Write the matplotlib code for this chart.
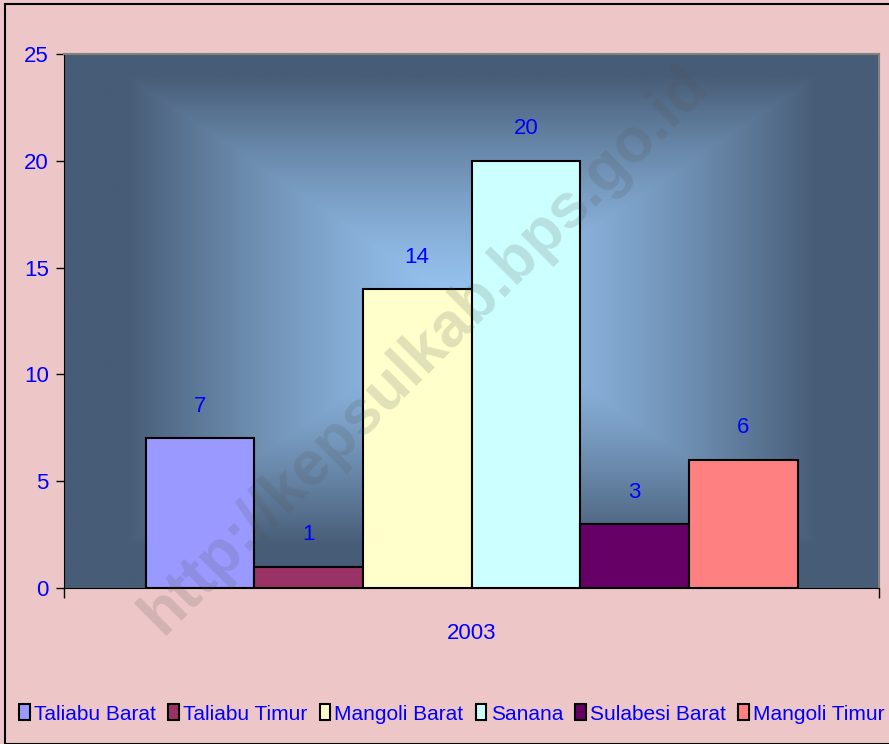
import numpy as np
import matplotlib
matplotlib.use('Agg')
import matplotlib.pyplot as plt
from matplotlib.patches import Rectangle, Patch

# data
regions = ['Taliabu Barat', 'Taliabu Timur', 'Mangoli Barat', 'Sanana',
           'Sulabesi Barat', 'Mangoli Timur']
values = [7, 1, 14, 20, 3, 6]
year = '2003'
colors = ['#9999FF', '#993366', '#FFFFCC', '#CCFFFF', '#660066', '#FF8080']

plt.rcParams['font.family'] = ['Liberation Sans', 'DejaVu Sans']
blue = '#0000FF'
pink = '#EDC6C7'

fig = plt.figure(figsize=(8.89, 7.44), dpi=100)
fig.patch.set_facecolor(pink)
fig.patches.append(Rectangle((5 / 889, 0.0), 1.0, 1 - 4 / 744, transform=fig.transFigure,
                             fill=False, edgecolor='black', linewidth=1.5))

ax = fig.add_axes([64 / 889, 1 - 588 / 744, 815 / 889, 534 / 744])

# rectangular "from centre" gradient backdrop
gx, gy = np.meshgrid(np.linspace(0, 1, 400), np.linspace(0, 1, 400))
t = np.maximum(np.abs(gx - 0.5) / 0.5, np.abs(gy - 0.48) / 0.52)
t = np.clip(t / 0.85, 0, 1) ** 1.4
c0 = np.array([0x98, 0xC5, 0xF2]) / 255
c1 = np.array([0x47, 0x5C, 0x76]) / 255
img = c0[None, None, :] * (1 - t[..., None]) + c1[None, None, :] * t[..., None]
ax.imshow(img, extent=[0, 1, 0, 1], transform=ax.transAxes, origin='upper',
          aspect='auto', zorder=0)

n = len(values)
width = 0.8 / n
x = -0.4 + width * (np.arange(n) + 0.5)
bars = ax.bar(x, values, width=width, color=colors, edgecolor='black',
              linewidth=1.5, zorder=2)
for xi, v in zip(x, values):
    ax.text(xi, v + 1.0, str(v), ha='center', va='bottom', color=blue,
            fontsize=16, zorder=3)

ax.set_xlim(-0.5, 0.5)
ax.set_ylim(0, 25)
ax.set_yticks([0, 5, 10, 15, 20, 25])
ax.tick_params(axis='y', colors='black', labelcolor=blue, labelsize=16,
               direction='out', length=6, width=1, pad=5)
ax.set_xticks([-0.5, 0.5])
ax.set_xticklabels(['', ''])
ax.tick_params(axis='x', direction='out', length=7, width=1)
ax.text(0, -0.085, year, transform=ax.get_xaxis_transform(), ha='center',
        va='center', color=blue, fontsize=16)

for s in ['top', 'right']:
    ax.spines[s].set_color('#808080')
    ax.spines[s].set_linewidth(1.5)
ax.spines['left'].set_color('black')
ax.spines['bottom'].set_color('black')

# watermark
fig.text(0.478, 0.53, 'http://kepsulkab.bps.go.id', rotation=45, ha='center',
         va='center', fontsize=45, fontweight='bold', color='#555555', alpha=0.18,
         zorder=5)

handles = [Patch(facecolor=c, edgecolor='black', linewidth=1.5) for c in colors]
leg = fig.legend(handles, regions, loc='center', bbox_to_anchor=(452 / 889, 1 - 714 / 744),
                 ncol=6, frameon=False, fontsize=15, handlelength=0.5, handleheight=0.8,
                 handletextpad=0.2, columnspacing=0.6, borderaxespad=0)
for t in leg.get_texts():
    t.set_color(blue)

fig.savefig('out.png', dpi=100, facecolor=fig.get_facecolor())
